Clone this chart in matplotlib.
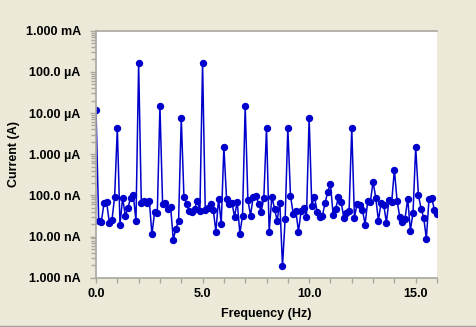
import numpy as np
import matplotlib
matplotlib.use('Agg')
import matplotlib.pyplot as plt
from matplotlib.ticker import FixedLocator, NullFormatter, LogLocator

# spectrum, 0.125 Hz spacing, 0 .. 16 Hz
freq_step = 0.125
current = [
    1.19e-5, 2.44e-8, 2.31e-8, 6.40e-8, 6.77e-8, 2.18e-8, 2.55e-8, 9.31e-8,
    4.36e-6, 1.95e-8, 8.61e-8, 3.22e-8, 5.04e-8, 8.80e-8, 1.00e-7, 2.44e-8,
    1.63e-4, 6.65e-8, 7.36e-8, 6.40e-8, 7.44e-8, 1.12e-8, 4.03e-8, 3.67e-8,
    1.49e-5, 6.05e-8, 6.58e-8, 4.76e-8, 5.32e-8, 8.46e-9, 1.56e-8, 2.44e-8,
    7.61e-6, 9.31e-8, 6.30e-8, 4.26e-8, 4.03e-8, 4.76e-8, 7.44e-8, 4.26e-8,
    1.63e-4, 4.51e-8, 5.04e-8, 6.30e-8, 4.51e-8, 1.32e-8, 8.32e-8, 2.06e-8,
    1.51e-6, 8.32e-8, 6.22e-8, 6.65e-8, 3.05e-8, 7.04e-8, 1.18e-8, 3.22e-8,
    1.49e-5, 7.87e-8, 3.22e-8, 9.31e-8, 9.84e-8, 6.30e-8, 4.03e-8, 8.80e-8,
    4.36e-6, 1.32e-8, 9.31e-8, 4.76e-8, 2.44e-8, 6.65e-8, 1.88e-9, 2.73e-8,
    4.36e-6, 9.84e-8, 3.61e-8, 4.26e-8, 1.32e-8, 4.26e-8, 5.04e-8, 3.05e-8,
    7.61e-6, 5.63e-8, 9.31e-8, 4.03e-8, 3.05e-8, 3.22e-8, 6.65e-8, 1.23e-7,
    1.92e-7, 3.41e-8, 4.76e-8, 9.31e-8, 7.04e-8, 2.88e-8, 3.81e-8, 4.26e-8,
    4.36e-6, 2.88e-8, 6.30e-8, 5.95e-8, 4.51e-8, 1.95e-8, 7.44e-8, 7.04e-8,
    2.15e-7, 8.80e-8, 2.44e-8, 6.65e-8, 5.95e-8, 2.18e-8, 7.87e-8, 7.04e-8,
    4.19e-7, 7.44e-8, 3.05e-8, 2.31e-8, 2.73e-8, 8.32e-8, 1.40e-8, 3.81e-8,
    1.51e-6, 1.04e-7, 4.76e-8, 2.88e-8, 8.95e-9, 8.32e-8, 8.80e-8, 4.51e-8,
    3.61e-8,
]
freq = np.arange(len(current)) * freq_step

y_ticks = [1e-9, 1e-8, 1e-7, 1e-6, 1e-5, 1e-4, 1e-3]
y_labels = ['1.000 nA', '10.00 nA', '100.0 nA', '1.000 \u00b5A',
            '10.00 \u00b5A', '100.0 \u00b5A', '1.000 mA']
x_ticks = [0, 5, 10, 15]
x_labels = ['0.0', '5.0', '10.0', '15.0']

plt.rcParams['font.family'] = ['Liberation Sans', 'DejaVu Sans']
plt.rcParams['font.weight'] = 'bold'

bg = '#ECE9D8'
grey = '#A8A8A0'
fig = plt.figure(figsize=(4.76, 3.27), dpi=100, facecolor=bg)
ax = fig.add_axes([0.2017, 0.1508, 0.7164, 0.7553])
ax.set_facecolor('white')

ax.plot(freq, current, color='#0000CC', linewidth=1.1,
        marker='o', markersize=4.3, markerfacecolor='#0000CC',
        markeredgecolor='#0000CC')

ax.set_yscale('log')
ax.set_ylim(1e-9, 1e-3)
ax.set_xlim(0, 16)

ax.yaxis.set_major_locator(FixedLocator(y_ticks))
ax.set_yticklabels(y_labels)
ax.yaxis.set_minor_locator(LogLocator(base=10, subs=np.arange(2, 10)))
ax.yaxis.set_minor_formatter(NullFormatter())

ax.set_xticks(x_ticks)
ax.set_xticklabels(x_labels)
ax.xaxis.set_minor_locator(FixedLocator(np.arange(0, 17, 1)))

ax.tick_params(axis='y', which='major', length=4, width=1, color=grey,
               pad=7, labelsize=9)
ax.tick_params(axis='y', which='minor', length=3.5, width=1, color=grey)
ax.tick_params(axis='x', which='major', length=3.5, width=1, color=grey,
               pad=4, labelsize=9)
ax.tick_params(axis='x', which='minor', length=3.5, width=1, color=grey)

for s in ['left', 'bottom']:
    ax.spines[s].set_color(grey)
    ax.spines[s].set_linewidth(1.2)
ax.spines['top'].set_color(grey)
ax.spines['top'].set_linewidth(1.2)
ax.spines['right'].set_visible(False)

ax.set_xlabel('Frequency (Hz)', fontsize=9, fontweight='bold', labelpad=6)
ax.set_ylabel('Current (A)', fontsize=9, fontweight='bold', labelpad=4)

fig.add_artist(plt.Line2D([0, 1], [0.004, 0.004], color='#A0A0A0',
                          linewidth=1, transform=fig.transFigure))

plt.savefig('out.png', dpi=100, facecolor=bg)
